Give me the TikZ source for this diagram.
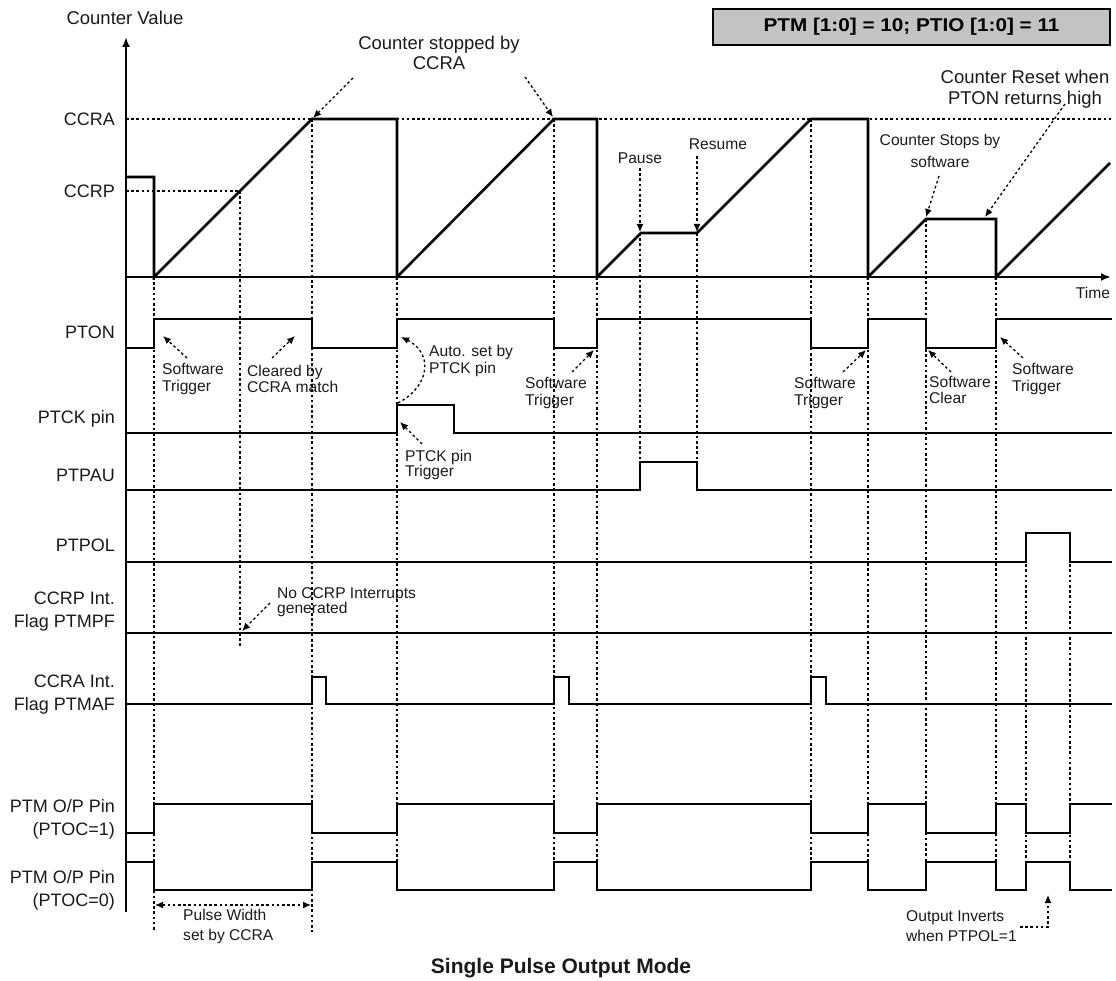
\documentclass[tikz,border=0pt]{standalone}
\usepackage{fontspec}
\setmainfont{Liberation Sans}
\usetikzlibrary{arrows.meta,positioning,calc}
\definecolor{tdInk}{HTML}{000000}
\definecolor{tdText}{HTML}{1A1A1A}
\definecolor{tdBox}{HTML}{C3C3C3}
\tikzset{
  tdaxis/.style={draw=tdInk,line width=2pt,-{Latex[length=10pt,width=8pt]}},
  tdcount/.style={draw=tdInk,line width=2.6pt,line join=miter},
  tdwave/.style={draw=tdInk,line width=2pt},
  tdguide/.style={draw=tdInk,line width=1.3pt,dash pattern=on 2.6pt off 2.6pt},
  tdnote/.style={draw=tdInk,line width=1.3pt,dash pattern=on 2.6pt off 2.6pt,-{Latex[length=8pt,width=7pt]}},
  tdname/.style={anchor=east,align=right,inner sep=0pt,text=tdText,font=\fontsize{18}{23}\selectfont},
  tdhead/.style={align=center,inner sep=0pt,text=tdText,font=\fontsize{18.5}{20}\selectfont},
  tdcall/.style={anchor=west,align=left,inner sep=0pt,text=tdText,font=\fontsize{15.6}{16.5}\selectfont},
  tdmode/.style={draw=tdInk,line width=1.6pt,fill=tdBox,minimum width=397pt,minimum height=36pt,inner sep=0pt,font=\bfseries\fontsize{18.5}{22}\selectfont}
}

\begin{document}
\begin{tikzpicture}[x=1pt,y=-1pt]
\useasboundingbox (0,0) rectangle (1116,981);

% ---- REFERENCE LEVELS AND GUIDES ----
\draw[tdguide] (126,119) -- (1112,119);
\draw[tdguide] (126,191) -- (240,191);
\draw[tdguide] (154,277) -- (154,932);
\draw[tdguide] (312,119) -- (312,932);
\draw[tdguide] (240,191) -- (240,648);
\foreach \tx/\ty in {397/277,554/119,597/277,811/119,868/277,926/219,996/277,1026/533,1070/533}
  \draw[tdguide] (\tx,\ty) -- (\tx,890);
\draw[tdguide] (640,233) -- (640,490);
\draw[tdguide] (697,233) -- (697,490);

% ---- AXES ----
\coordinate (origin) at (126,277);
\coordinate (vtop) at (126,37);
\coordinate (vbot) at (126,912);
\coordinate (tend) at (1111,277);
\draw[tdaxis] (vbot) -- (vtop);
\draw[tdaxis] (origin) -- (tend);
\node[tdhead] (vlabel) at (125,18) {Counter Value};
\node[tdcall,anchor=center] (tlabel) at (1093,293) {Time};
\node[tdname] (lccra) at (115,119) {CCRA};
\node[tdname] (lccrp) at (115,191) {CCRP};

% ---- COUNTER ----
\draw[tdcount] (126,177) -- (154,177) -- (154,277) -- (312,119) -- (397,119) -- (397,277)
  -- (554,119) -- (597,119) -- (597,277) -- (641,233) -- (697,233) -- (811,119) -- (868,119)
  -- (868,277) -- (926,219) -- (996,219) -- (996,277) -- (1110,163);

% ---- SIGNALS ----
\node[tdname] (lpton) at (115,332) {PTON};
\draw[tdwave] (126,348) -- (154,348) -- (154,319) -- (312,319) -- (312,348) -- (397,348) -- (397,319)
  -- (554,319) -- (554,348) -- (597,348) -- (597,319) -- (811,319) -- (811,348) -- (868,348)
  -- (868,319) -- (926,319) -- (926,348) -- (996,348) -- (996,319) -- (1112,319);

\node[tdname] (lptck) at (115,419) {PTCK pin};
\draw[tdwave] (126,433) -- (397,433) -- (397,405) -- (454,405) -- (454,433) -- (1112,433);

\node[tdname] (lptpau) at (115,475) {PTPAU};
\draw[tdwave] (126,490) -- (640,490) -- (640,462) -- (697,462) -- (697,490) -- (1112,490);

\node[tdname] (lptpol) at (115,545) {PTPOL};
\draw[tdwave] (126,562) -- (1026,562) -- (1026,533) -- (1070,533) -- (1070,562) -- (1112,562);

\node[tdname] (lptmpf) at (115,612) {CCRP Int.\\Flag PTMPF};
\draw[tdwave] (126,633) -- (1112,633);

\node[tdname] (lptmaf) at (115,695) {CCRA Int.\\Flag PTMAF};
\draw[tdwave] (126,704) -- (312,704) -- (312,677) -- (326,677) -- (326,704) -- (554,704) -- (554,677)
  -- (569,677) -- (569,704) -- (811,704) -- (811,677) -- (826,677) -- (826,704) -- (1112,704);

\node[tdname] (lout1) at (115,819) {PTM O/P Pin\\(PTOC=1)};
\draw[tdwave] (126,833) -- (154,833) -- (154,804) -- (312,804) -- (312,833) -- (397,833) -- (397,804)
  -- (554,804) -- (554,833) -- (597,833) -- (597,804) -- (811,804) -- (811,833) -- (868,833)
  -- (868,804) -- (926,804) -- (926,833) -- (996,833) -- (996,804) -- (1026,804) -- (1026,833)
  -- (1070,833) -- (1070,804) -- (1112,804);

\node[tdname] (lout0) at (115,890) {PTM O/P Pin\\(PTOC=0)};
\draw[tdwave] (126,862) -- (154,862) -- (154,890) -- (312,890) -- (312,862) -- (397,862) -- (397,890)
  -- (554,890) -- (554,862) -- (597,862) -- (597,890) -- (811,890) -- (811,862) -- (868,862)
  -- (868,890) -- (926,890) -- (926,862) -- (996,862) -- (996,890) -- (1026,890) -- (1026,862)
  -- (1070,862) -- (1070,890) -- (1112,890);

% ---- COUNTER NOTES ----
\node[tdhead] (nstop) at (439,53) {Counter stopped by\\CCRA};
\coordinate (stopa) at (353,78);  \coordinate (stopa2) at (313,118);
\coordinate (stopb) at (525,77);  \coordinate (stopb2) at (553,117);
\draw[tdnote] (stopa) -- (stopa2);
\draw[tdnote] (stopb) -- (stopb2);

\node[tdcall,anchor=center] (npause) at (640,158) {Pause};
\coordinate (pausea) at (640,168); \coordinate (pauseb) at (640,232);
\draw[tdnote] (pausea) -- (pauseb);

\node[tdcall,anchor=center] (nresume) at (718,144) {Resume};
\coordinate (resumea) at (697,156); \coordinate (resumeb) at (697,232);
\draw[tdnote] (resumea) -- (resumeb);

\node[tdcall,anchor=center,align=center,font=\fontsize{15.6}{22}\selectfont] (nstops) at (940,151) {Counter Stops by\\software};
\coordinate (stopsa) at (939,176); \coordinate (stopsb) at (926,217);
\draw[tdnote] (stopsa) -- (stopsb);

\node[tdhead,font=\fontsize{18.5}{21}\selectfont] (nreset) at (1025,89) {Counter Reset when\\PTON returns high};
\coordinate (reseta) at (1065,104); \coordinate (resetb) at (985,217);
\draw[tdnote] (reseta) -- (resetb);

% ---- PTON / PTCK NOTES ----
\node[tdcall] (nsw1) at (162,379) {Software\\Trigger};
\coordinate (sw1a) at (187,358); \coordinate (sw1b) at (163,336);
\draw[tdnote] (sw1a) -- (sw1b);

\node[tdcall] (nclr) at (247,379) {Cleared by\\CCRA match};
\coordinate (clra) at (272,358); \coordinate (clrb) at (295,336);
\draw[tdnote] (clra) -- (clrb);

\node[tdcall] (nauto) at (429,361) {Auto. set by\\PTCK pin};
\coordinate (autoa) at (398,403); \coordinate (autob) at (401,337);
\draw[tdnote] (autoa) .. controls (432,385) and (432,352) .. (autob);

\node[tdcall,font=\fontsize{15.6}{15.5}\selectfont] (nptck) at (405,465) {PTCK pin\\Trigger};
\coordinate (ptcka) at (422,444); \coordinate (ptckb) at (400,422);
\draw[tdnote] (ptcka) -- (ptckb);

\node[tdcall] (nsw2) at (525,393) {Software\\Trigger};
\coordinate (sw2a) at (572,372); \coordinate (sw2b) at (594,350);
\draw[tdnote] (sw2a) -- (sw2b);

\node[tdcall] (nsw3) at (794,393) {Software\\Trigger};
\coordinate (sw3a) at (843,372); \coordinate (sw3b) at (866,350);
\draw[tdnote] (sw3a) -- (sw3b);

\node[tdcall] (nclear) at (929,390) {Software\\Clear};
\coordinate (cleara) at (951,372); \coordinate (clearb) at (928,350);
\draw[tdnote] (cleara) -- (clearb);

\node[tdcall] (nsw4) at (1012,379) {Software\\Trigger};
\coordinate (sw4a) at (1023,358); \coordinate (sw4b) at (1000,337);
\draw[tdnote] (sw4a) -- (sw4b);

% ---- FLAG AND OUTPUT NOTES ----
\node[tdcall,font=\fontsize{15.6}{14}\selectfont] (nnoccrp) at (277,602) {No CCRP Interrupts\\generated};
\coordinate (noa) at (270,603); \coordinate (nob) at (242,631);
\draw[tdnote] (noa) -- (nob);

\coordinate (pwl) at (155,905); \coordinate (pwr) at (311,905);
\draw[tdnote,{Latex[length=8pt,width=7pt]}-{Latex[length=8pt,width=7pt]}] (pwl) -- (pwr);
\node[tdcall,font=\fontsize{15.6}{20}\selectfont] (npulse) at (183,926) {Pulse Width\\set by CCRA};

\node[tdcall,font=\fontsize{15.6}{20}\selectfont] (ninv) at (906,926) {Output Inverts\\when PTPOL=1};
\coordinate (inva) at (1020,927); \coordinate (invb) at (1048,895);
\draw[tdnote] (inva) -| (invb);

% ---- MODE BOX AND CAPTION ----
\node[tdmode] (mode) at (911.5,27) {\scalebox{1.12}[1]{PTM [1:0] = 10; PTIO [1:0] = 11}};
\node[inner sep=0pt,text=tdText,font=\bfseries\fontsize{21}{24}\selectfont] (caption) at (561,968) {Single Pulse Output Mode};

\end{tikzpicture}
\end{document}
